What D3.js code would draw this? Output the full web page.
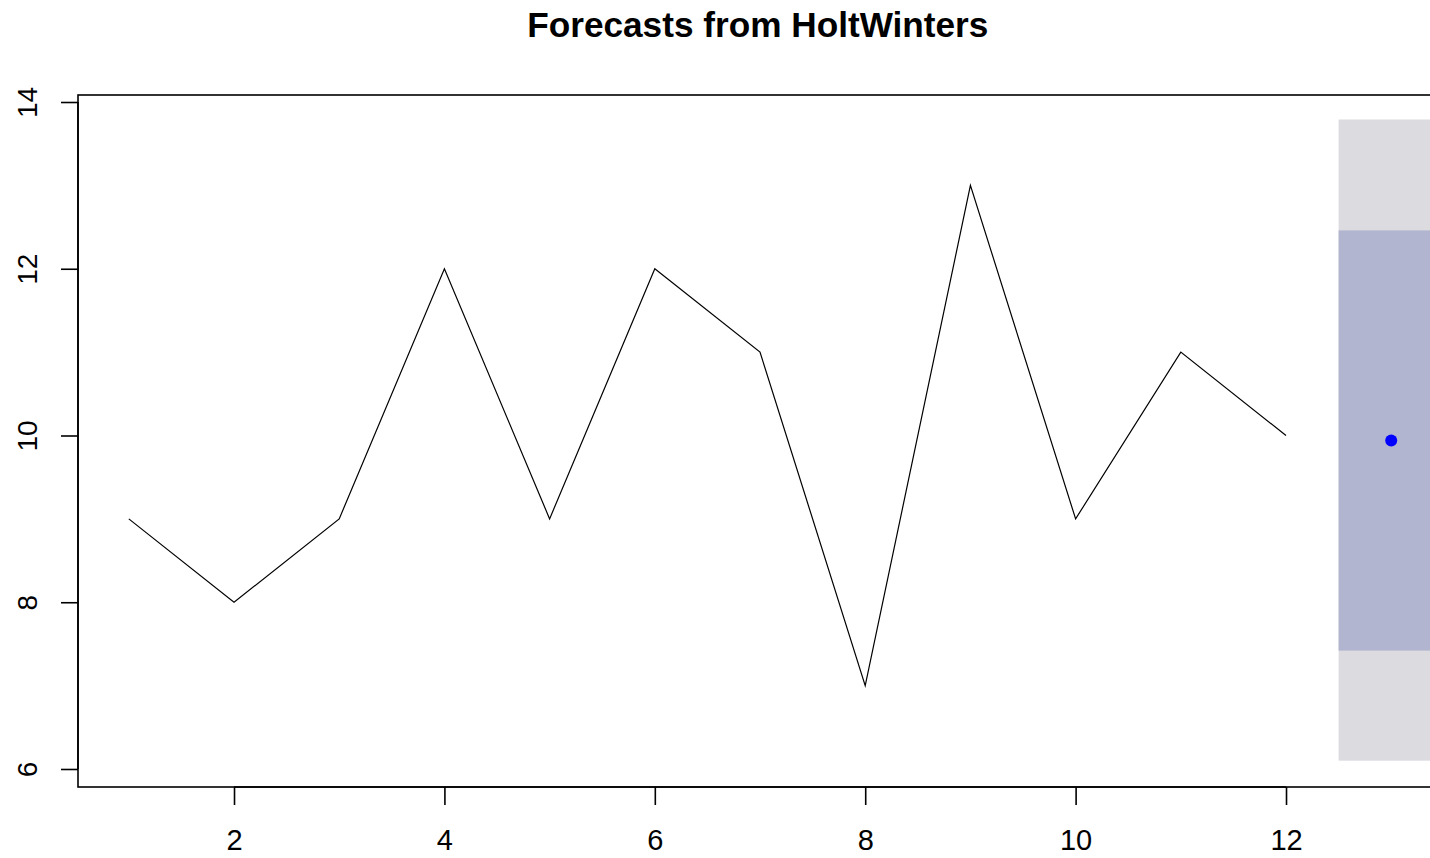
<!DOCTYPE html>
<html>
<head>
<meta charset="utf-8">
<script src="https://cdn.jsdelivr.net/npm/d3@7"></script>
<style>
  html, body { margin: 0; padding: 0; background: #fff; overflow: hidden; }
  svg { display: block; font-family: "Liberation Sans", Arial, sans-serif; }
</style>
</head>
<body>
<svg id="chart" width="1430" height="858"></svg>
<script>
// Observed series (time index 1..12)
const timeIdx = [1, 2, 3, 4, 5, 6, 7, 8, 9, 10, 11, 12];
const observed = [9, 8, 9, 12, 9, 12, 11, 7, 13, 9, 11, 10];

// One-step-ahead forecast with prediction intervals
const forecastTime = [13];
const forecastMean = [9.94];
const lo80 = [7.42], hi80 = [12.46];
const lo95 = [6.10], hi95 = [13.79];

const xTicks = [2, 4, 6, 8, 10, 12];
const yTicks = [6, 8, 10, 12, 14];

const svg = d3.select("#chart");

// Plot region (the right side runs past the window edge)
const plotLeft = 78, plotTop = 95, plotBottom = 787;
const unitX = 105.2;
const x = d3.scaleLinear().domain([0.517, 13.517]).range([plotLeft, plotLeft + 13 * unitX]);
const y = d3.scaleLinear().domain([5.784, 14.084]).range([plotBottom, plotTop]);

// Prediction interval bands (forecast step spans +/- half a period)
forecastTime.forEach((t, i) => {
  svg.append("rect")
    .attr("x", x(t - 0.5)).attr("width", x(t + 0.5) - x(t - 0.5))
    .attr("y", y(hi95[i])).attr("height", y(lo95[i]) - y(hi95[i]))
    .attr("fill", "#dbdbe0");
  svg.append("rect")
    .attr("x", x(t - 0.5)).attr("width", x(t + 0.5) - x(t - 0.5))
    .attr("y", y(hi80[i])).attr("height", y(lo80[i]) - y(hi80[i]))
    .attr("fill", "#b1b5cf");
});

// Observed line
const line = d3.line().x((d, i) => x(timeIdx[i])).y(d => y(d));
svg.append("path")
  .datum(observed)
  .attr("d", line)
  .attr("fill", "none")
  .attr("stroke", "#000")
  .attr("stroke-width", 1.2);

// Point forecast
svg.selectAll("circle.fc")
  .data(forecastMean)
  .join("circle")
  .attr("class", "fc")
  .attr("cx", (d, i) => x(forecastTime[i]))
  .attr("cy", d => y(d))
  .attr("r", 6)
  .attr("fill", "#0000ff");

// Plot box
svg.append("rect")
  .attr("x", x.range()[0]).attr("y", plotTop)
  .attr("width", x.range()[1] - x.range()[0]).attr("height", plotBottom - plotTop)
  .attr("fill", "none").attr("stroke", "#000").attr("stroke-width", 1.6);

// Bottom axis
const xAxis = d3.axisBottom(x).tickValues(xTicks).tickSize(18).tickPadding(24).tickFormat(d3.format("d"));
const gx = svg.append("g").attr("transform", `translate(0,${plotBottom})`).call(xAxis);
gx.select(".domain").attr("d", `M${x(xTicks[0])},0H${x(xTicks[xTicks.length - 1])}`).attr("stroke-width", 1.6);
gx.selectAll(".tick line").attr("stroke-width", 1.6);
gx.selectAll(".tick text").attr("font-size", 29).attr("fill", "#000")
  .attr("font-family", "Liberation Sans, Arial, sans-serif");

// Left axis with vertical labels
const yAxis = d3.axisLeft(y).tickValues(yTicks).tickSize(17).tickFormat(d3.format("d"));
const gy = svg.append("g").attr("transform", `translate(${plotLeft},0)`).call(yAxis);
gy.select(".domain").attr("d", `M0,${y(yTicks[0])}V${y(yTicks[yTicks.length - 1])}`).attr("stroke-width", 1.6);
gy.selectAll(".tick line").attr("stroke-width", 1.6);
gy.selectAll(".tick text")
  .attr("font-size", 28).attr("fill", "#000")
  .attr("font-family", "Liberation Sans, Arial, sans-serif")
  .attr("x", null).attr("dy", null)
  .attr("text-anchor", "middle")
  .attr("transform", "translate(-41,0) rotate(-90)");

// Title
svg.append("text")
  .attr("x", (x.range()[0] + x.range()[1]) / 2 - 4)
  .attr("y", 37)
  .attr("text-anchor", "middle")
  .attr("font-size", 35.2)
  .attr("font-weight", "bold")
  .attr("fill", "#000")
  .text("Forecasts from HoltWinters");
</script>
</body>
</html>
